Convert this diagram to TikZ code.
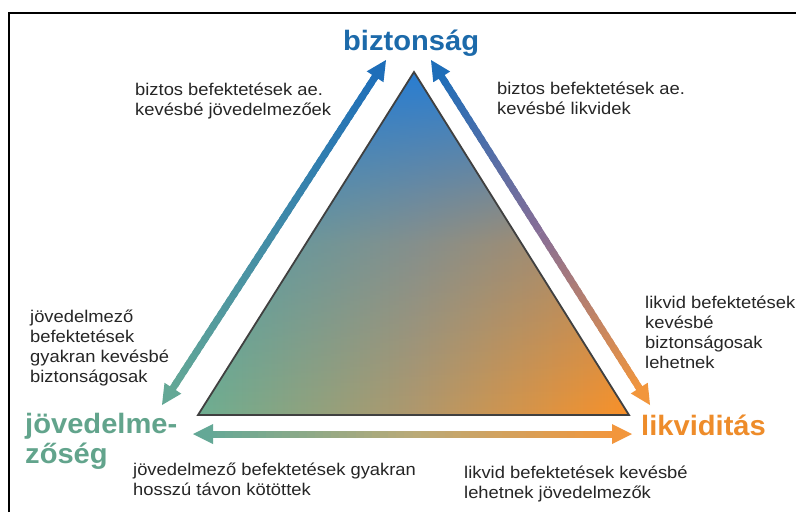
\documentclass[tikz,border=0pt]{standalone}
\usepackage{fontspec}
\setmainfont{Liberation Sans}
\newfontfamily\smallfont[FakeStretch=1.08]{Liberation Sans}
\newfontfamily\bigfont[FakeStretch=1.04]{Liberation Sans}
\usetikzlibrary{calc,fadings}

\definecolor{cblue}{RGB}{28,106,170}
\definecolor{corange}{RGB}{238,140,42}
\definecolor{cteal}{RGB}{98,164,140}
\definecolor{tblue}{RGB}{40,125,210}
\definecolor{tgreen}{RGB}{110,174,145}
\definecolor{ttan}{RGB}{176,152,108}
\definecolor{torange}{RGB}{250,145,40}
\definecolor{ablue}{RGB}{30,110,185}
\definecolor{ateal}{RGB}{100,168,150}
\definecolor{apurple}{RGB}{135,110,150}
\definecolor{aorange}{RGB}{242,150,60}
\definecolor{atan}{RGB}{185,170,120}

\tikzfading[name=fadedown, top color=transparent!0, bottom color=transparent!100, middle color=transparent!68]

\newcommand\gradseg[5]{%
  \foreach \i in {1,...,#5}{%
    \pgfmathsetmacro\ta{(\i-1)/#5}%
    \pgfmathsetmacro\tb{min(1,(\i+0.6)/#5)}%
    \pgfmathtruncatemacro\pc{100*(\i-0.5)/#5}%
    \draw[shaft, color=#4!\pc!#3] ($(#1)!\ta!(#2)$) -- ($(#1)!\tb!(#2)$);
  }}
\newcommand\headat[3]{%
  \coordinate (hb) at ($(#1)!20pt!(#2)$);
  \fill[#3] (#1) -- ($(hb)!10pt!90:(#1)$) -- ($(hb)!10pt!-90:(#1)$) -- cycle;}

\begin{document}
\begin{tikzpicture}[x=1pt,y=-1pt,
  shaft/.style={line width=7pt},
  lab/.style={font=\smallfont\fontsize{17}{20}\selectfont, align=left, inner sep=0pt, anchor=base west, text=black!85},
  big/.style={font=\bigfont\bfseries\fontsize{28}{30}\selectfont, align=left, inner sep=0pt, anchor=base west}]
\useasboundingbox (0,0) rectangle (796,512);
\fill[white] (0,0) rectangle (796,512);
% frame (top and left only)
\draw[line width=2pt] (9,512) -- (9,13) -- (796,13);

% triangle
\coordinate (TA) at (414,72);
\coordinate (TB) at (198,415);
\coordinate (TC) at (629,415);
\shade[left color=tgreen, right color=torange, middle color=ttan] (TA) -- (TB) -- (TC) -- cycle;
\shade[top color=tblue, bottom color=tblue, path fading=fadedown] (TA) -- (TB) -- (TC) -- cycle;
\draw[line width=1.8pt, color=black!75, line join=miter] (TA) -- (TB) -- (TC) -- cycle;

% left arrow
\coordinate (LP) at (162,405);
\coordinate (LQ) at (386,60);
\coordinate (LPb) at ($(LP)!16pt!(LQ)$);
\coordinate (LQb) at ($(LQ)!16pt!(LP)$);
\gradseg{LPb}{LQb}{ateal}{ablue}{50}
\headat{LP}{LQ}{ateal}
\headat{LQ}{LP}{ablue}

% right arrow
\coordinate (RP) at (431,60);
\coordinate (RQ) at (650,405);
\coordinate (RPb) at ($(RP)!16pt!(RQ)$);
\coordinate (RQb) at ($(RQ)!16pt!(RP)$);
\coordinate (RM) at ($(RPb)!0.5!(RQb)$);
\gradseg{RPb}{RM}{ablue}{apurple}{25}
\gradseg{RM}{RQb}{apurple}{aorange}{25}
\headat{RP}{RQ}{ablue}
\headat{RQ}{RP}{aorange}

% bottom arrow
\coordinate (BP) at (193,434);
\coordinate (BQ) at (632,434);
\coordinate (BPb) at ($(BP)!16pt!(BQ)$);
\coordinate (BQb) at ($(BQ)!16pt!(BP)$);
\coordinate (BM) at ($(BPb)!0.5!(BQb)$);
\gradseg{BPb}{BM}{ateal}{atan}{25}
\gradseg{BM}{BQb}{atan}{aorange}{25}
\headat{BP}{BQ}{ateal}
\headat{BQ}{BP}{aorange}

% big labels
\node[big, text=cblue] (bizt) at (343,50) {biztonság};
\node[big, text=corange] (likv) at (641,435) {likviditás};
\node[big, text=cteal] (jov) at (25,463) {jövedelme-\\zőség};

% small texts (anchor is the baseline of the last line)
\node[lab] (t1) at (135,115) {biztos befektetések ae.\\kevésbé jövedelmezőek};
\node[lab] (t2) at (497,114) {biztos befektetések ae.\\kevésbé likvidek};
\node[lab] (t3) at (30,382) {jövedelmező\\befektetések\\gyakran kevésbé\\biztonságosak};
\node[lab] (t4) at (645,368) {likvid befektetések\\kevésbé\\biztonságosak\\lehetnek};
\node[lab] (t5) at (133,495) {jövedelmező befektetések gyakran\\hosszú távon kötöttek};
\node[lab] (t6) at (464,498) {likvid befektetések kevésbé\\lehetnek jövedelmezők};
\end{tikzpicture}
\end{document}
